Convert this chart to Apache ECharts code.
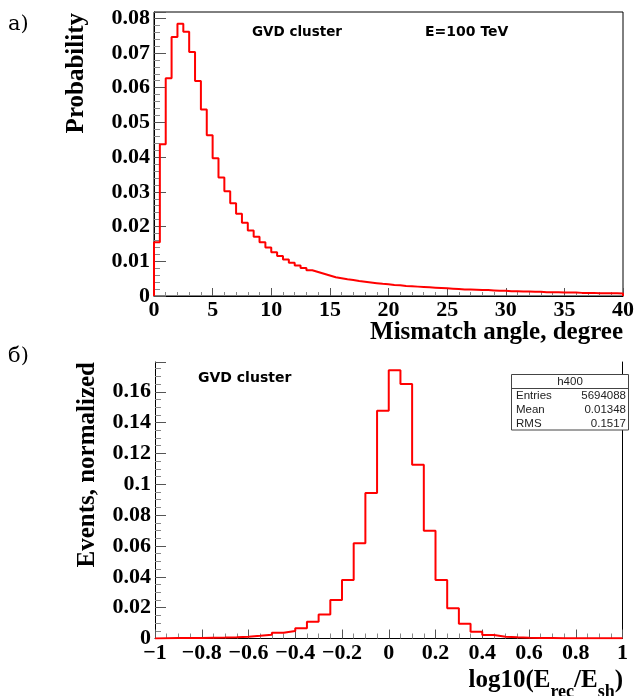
<!DOCTYPE html>
<html><head><meta charset="utf-8">
<script src="https://cdn.jsdelivr.net/npm/echarts@6/dist/echarts.min.js"></script>
<style>html,body{margin:0;padding:0;background:#fff}#c{width:637px;height:696px}</style>
</head><body><div id="c"></div>
<script>
// ---------- data ----------
const angleStart = 0;          // degrees
const angleBinWidth = 0.5;     // degrees
const angleProb = [
  0.0155, 0.0437, 0.0627, 0.0746, 0.0784, 0.0761, 0.0703, 0.0619, 0.0537, 0.0463,
  0.0397, 0.0341, 0.0302, 0.0267, 0.0237, 0.0211, 0.0189, 0.0171, 0.0155, 0.0140,
  0.0126, 0.0115, 0.0105, 0.0096, 0.0088, 0.0081, 0.0074, 0.0069, 0.0064, 0.0059,
  0.0054, 0.0051, 0.0048, 0.0046, 0.0043, 0.0041, 0.0039, 0.0037, 0.0035, 0.0034,
  0.0032, 0.0031, 0.0029, 0.0028, 0.0027, 0.0026, 0.0025, 0.0024, 0.0023, 0.0022,
  0.0021, 0.0020, 0.0019, 0.0019, 0.0018, 0.0017, 0.0017, 0.0016, 0.0015, 0.0015,
  0.0014, 0.0014, 0.0013, 0.0013, 0.0012, 0.0012, 0.0011, 0.0011, 0.0011, 0.0010,
  0.0010, 0.0010, 0.0009, 0.0009, 0.0009, 0.0008, 0.0008, 0.0008, 0.0008, 0.0007
];
const energyStart = -1;
const energyBinWidth = 0.05;
const energyEvents = [
  0.0002, 0.0003, 0.0003, 0.0004, 0.0005, 0.0006, 0.0008, 0.0012, 0.0018, 0.0025,
  0.0038, 0.0049, 0.0066, 0.0109, 0.0156, 0.0250, 0.0380, 0.0618, 0.0943, 0.1477,
  0.1739, 0.1650, 0.1127, 0.0698, 0.0380, 0.0196, 0.0096, 0.0044, 0.0023, 0.0012,
  0.0008, 0.0005, 0.0004, 0.0003, 0.0002, 0.0002, 0.0001, 0.0001, 0.0001, 0.0001
];
const angleAxis = [0, 40, 5];          // min, max, interval
const angleProbAxis = [0, 0.0818, 0.01];
const energyAxis = [-1, 1, 0.2];
const energyEventsAxis = [0, 0.1793, 0.02];
const statsRows = [["Entries", "5694088"], ["Mean", "0.01348"], ["RMS", "0.1517"]];
const statsTitle = "h400";

// ---------- helpers ----------
function stepPoints(start, w, vals) {
  const pts = [[start, 0]];
  vals.forEach((v, i) => { pts.push([start + i * w, v]); pts.push([start + (i + 1) * w, v]); });
  pts.push([start + vals.length * w, 0]);
  return pts;
}
const serifBold = { fontFamily: 'Liberation Serif', fontWeight: 'bold', fontSize: 22, color: '#000' };
function isMult(v, step) { const r = v / step; return Math.abs(r - Math.round(r)) < 1e-6; }

const chart = echarts.init(document.getElementById('c'), null, { renderer: 'canvas' });
const minorStyle = { color: '#888', width: 1 };
const majorStyle = { color: '#555', width: 1 };
const blackLine = { onZero: false, show: true, lineStyle: { color: '#000', width: 1 } };

chart.setOption({
  animation: false,
  backgroundColor: '#fff',
  grid: [
    { left: 154, top: 12, width: 469, height: 284, show: true, borderColor: '#000', borderWidth: 1, backgroundColor: 'transparent' },
    { left: 155, top: 362, width: 467.5, height: 276.5 }
  ],
  xAxis: [
    { gridIndex: 0, type: 'value', min: angleAxis[0], max: angleAxis[1], interval: angleAxis[2],
      axisLine: blackLine,
      axisTick: { inside: true, length: 8, lineStyle: majorStyle },
      minorTick: { show: true, splitNumber: 5, length: 4, lineStyle: minorStyle },
      splitLine: { show: false },
      axisLabel: Object.assign({ margin: 3 }, serifBold) },
    { gridIndex: 1, type: 'value', min: energyAxis[0], max: energyAxis[1], interval: energyAxis[2],
      axisLine: blackLine,
      axisTick: { inside: true, length: 9, lineStyle: majorStyle },
      minorTick: { show: true, splitNumber: 4, length: 5, lineStyle: minorStyle },
      splitLine: { show: false },
      axisLabel: Object.assign({ margin: 4, formatter: v => {
        const r = Math.round(v * 10) / 10;
        if (Math.abs(r) < 1e-9) return '0';
        return r < 0 ? '\u2212' + String(-r) : String(r);
      } }, serifBold) }
  ],
  yAxis: [
    { gridIndex: 0, type: 'value', min: angleProbAxis[0], max: angleProbAxis[1], interval: angleProbAxis[2],
      axisLine: blackLine,
      axisTick: { show: true, inside: true, length: 12, lineStyle: majorStyle },
      minorTick: { show: true, splitNumber: 5, length: 6, lineStyle: minorStyle },
      splitLine: { show: false },
      axisLabel: Object.assign({ margin: 4, showMaxLabel: false,
        formatter: v => isMult(v, angleProbAxis[2]) ? String(Math.round(v * 100) / 100) : '' }, serifBold) },
    { gridIndex: 1, type: 'value', min: energyEventsAxis[0], max: energyEventsAxis[1], interval: energyEventsAxis[2],
      axisLine: blackLine,
      axisTick: { show: true, inside: true, length: 11, lineStyle: majorStyle },
      minorTick: { show: true, splitNumber: 4, length: 6, lineStyle: minorStyle },
      splitLine: { show: false },
      axisLabel: Object.assign({ margin: 4, showMaxLabel: false,
        formatter: v => isMult(v, energyEventsAxis[2]) ? String(Math.round(v * 100) / 100) : '' }, serifBold) },
    { gridIndex: 1, type: 'value', position: 'right', min: energyEventsAxis[0], max: energyEventsAxis[1],
      axisLine: blackLine,
      axisTick: { show: false }, axisLabel: { show: false }, splitLine: { show: false } }
  ],
  series: [
    { type: 'line', xAxisIndex: 0, yAxisIndex: 0, data: stepPoints(angleStart, angleBinWidth, angleProb),
      showSymbol: false, lineStyle: { color: '#ff0000', width: 2 }, z: 5 },
    { type: 'line', xAxisIndex: 1, yAxisIndex: 1, data: stepPoints(energyStart, energyBinWidth, energyEvents),
      showSymbol: false, lineStyle: { color: '#ff0000', width: 2 }, z: 5 }
  ],
  graphic: [
    { type: 'text', x: 8, y: 25, z: 100, style: { text: 'a)', fontFamily: 'DejaVu Serif', fontSize: 21, fill: '#000', verticalAlign: 'middle' } },
    { type: 'text', x: 8, y: 357, z: 100, style: { text: 'б)', fontFamily: 'DejaVu Serif', fontSize: 21, fill: '#000', verticalAlign: 'middle' } },
    { type: 'text', x: 77, y: 13, rotation: Math.PI / 2, z: 100,
      style: { text: 'Probability', fontFamily: 'Liberation Serif', fontWeight: 'bold', fontSize: 25, fill: '#000', align: 'right', verticalAlign: 'middle' } },
    { type: 'text', x: 88, y: 362, rotation: Math.PI / 2, z: 100,
      style: { text: 'Events, normalized', fontFamily: 'Liberation Serif', fontWeight: 'bold', fontSize: 25, fill: '#000', align: 'right', verticalAlign: 'middle' } },
    { type: 'text', x: 623, y: 333, z: 100,
      style: { text: 'Mismatch angle, degree', fontFamily: 'Liberation Serif', fontWeight: 'bold', fontSize: 25, fill: '#000', align: 'right', verticalAlign: 'middle' } },
    { type: 'text', x: 623, y: 668.5, z: 100,
      style: { text: '{m|log10(E}{s|rec}{m|/E}{s|sh}{m|)}', align: 'right', verticalAlign: 'top',
        rich: {
          m: { fontFamily: 'Liberation Serif', fontWeight: 'bold', fontSize: 25, lineHeight: 25, verticalAlign: 'top', fill: '#000', color: '#000' },
          s: { fontFamily: 'Liberation Serif', fontWeight: 'bold', fontSize: 18, lineHeight: 33, verticalAlign: 'bottom', fill: '#000', color: '#000' }
        } } },
    { type: 'text', x: 252, y: 32, z: 100, style: { text: 'GVD cluster', fontFamily: 'DejaVu Sans', fontWeight: 'bold', fontSize: 13.5, fill: '#000', verticalAlign: 'middle' } },
    { type: 'text', x: 425, y: 32, z: 100, style: { text: 'E=100 TeV', fontFamily: 'DejaVu Sans', fontWeight: 'bold', fontSize: 14, fill: '#000', verticalAlign: 'middle' } },
    { type: 'text', x: 198, y: 378, z: 100, style: { text: 'GVD cluster', fontFamily: 'DejaVu Sans', fontWeight: 'bold', fontSize: 14, fill: '#000', verticalAlign: 'middle' } },
    { type: 'group', z: 100, children: [
      { type: 'rect', z: 100, shape: { x: 511.5, y: 374.5, width: 117, height: 55.5 }, style: { fill: '#fff', stroke: '#444', lineWidth: 1 } },
      { type: 'line', z: 101, shape: { x1: 511.5, y1: 388.5, x2: 628.5, y2: 388.5 }, style: { stroke: '#444', lineWidth: 1 } },
      { type: 'text', z: 101, x: 570, y: 381.5, style: { text: statsTitle, fontFamily: 'Liberation Sans', fontSize: 11.5, fill: '#222', align: 'center', verticalAlign: 'middle' } }
    ].concat(statsRows.flatMap((r, i) => [
      { type: 'text', z: 101, x: 516, y: 395.5 + i * 14, style: { text: r[0], fontFamily: 'Liberation Sans', fontSize: 11.5, fill: '#222', verticalAlign: 'middle' } },
      { type: 'text', z: 101, x: 626, y: 395.5 + i * 14, style: { text: r[1], fontFamily: 'Liberation Sans', fontSize: 11.5, fill: '#222', align: 'right', verticalAlign: 'middle' } }
    ])) }
  ]
});
</script>
</body></html>
